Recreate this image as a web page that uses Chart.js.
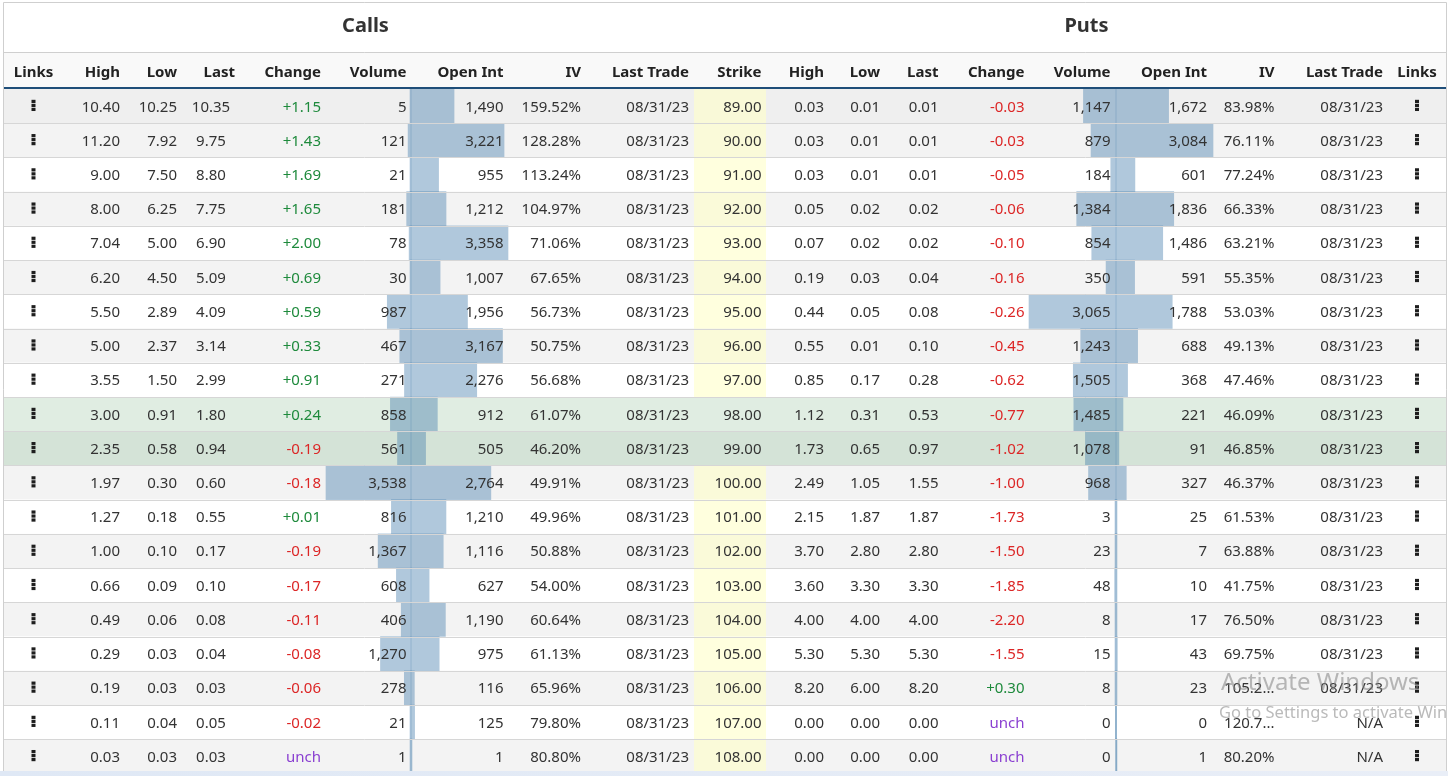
<!DOCTYPE html>
<html>
<head>
<meta charset="utf-8">
<script src="https://cdn.jsdelivr.net/npm/chart.js@4.4.0/dist/chart.umd.min.js"></script>
<style>
  html, body { margin: 0; padding: 0; background: #fff; }
  #wrap { position: relative; width: 1448px; height: 776px; }
</style>
</head>
<body>
<div id="wrap"><canvas id="grafico"></canvas></div>
<script>
// datos de la cadena de opciones
const strikes = [89, 90, 91, 92, 93, 94, 95, 96, 97, 98, 99, 100, 101, 102, 103, 104, 105, 106, 107, 108];

const callHigh = [10.40, 11.20, 9.00, 8.00, 7.04, 6.20, 5.50, 5.00, 3.55, 3.00, 2.35, 1.97, 1.27, 1.00, 0.66, 0.49, 0.29, 0.19, 0.11, 0.03];
const callLow = [10.25, 7.92, 7.50, 6.25, 5.00, 4.50, 2.89, 2.37, 1.50, 0.91, 0.58, 0.30, 0.18, 0.10, 0.09, 0.06, 0.03, 0.03, 0.04, 0.03];
const callLast = [10.35, 9.75, 8.80, 7.75, 6.90, 5.09, 4.09, 3.14, 2.99, 1.80, 0.94, 0.60, 0.55, 0.17, 0.10, 0.08, 0.04, 0.03, 0.05, 0.03];
const callChange = [1.15, 1.43, 1.69, 1.65, 2.00, 0.69, 0.59, 0.33, 0.91, 0.24, -0.19, -0.18, 0.01, -0.19, -0.17, -0.11, -0.08, -0.06, -0.02, 0];
const callVolume = [5, 121, 21, 181, 78, 30, 987, 467, 271, 858, 561, 3538, 816, 1367, 608, 406, 1270, 278, 21, 1];
const callOpenInt = [1490, 3221, 955, 1212, 3358, 1007, 1956, 3167, 2276, 912, 505, 2764, 1210, 1116, 627, 1190, 975, 116, 125, 1];
const callIV = [159.52, 128.28, 113.24, 104.97, 71.06, 67.65, 56.73, 50.75, 56.68, 61.07, 46.20, 49.91, 49.96, 50.88, 54.00, 60.64, 61.13, 65.96, 79.80, 80.80];
const callLastTrade = ['08/31/23', '08/31/23', '08/31/23', '08/31/23', '08/31/23', '08/31/23', '08/31/23', '08/31/23', '08/31/23', '08/31/23',
                       '08/31/23', '08/31/23', '08/31/23', '08/31/23', '08/31/23', '08/31/23', '08/31/23', '08/31/23', '08/31/23', '08/31/23'];

const putHigh = [0.03, 0.03, 0.03, 0.05, 0.07, 0.19, 0.44, 0.55, 0.85, 1.12, 1.73, 2.49, 2.15, 3.70, 3.60, 4.00, 5.30, 8.20, 0.00, 0.00];
const putLow = [0.01, 0.01, 0.01, 0.02, 0.02, 0.03, 0.05, 0.01, 0.17, 0.31, 0.65, 1.05, 1.87, 2.80, 3.30, 4.00, 5.30, 6.00, 0.00, 0.00];
const putLast = [0.01, 0.01, 0.01, 0.02, 0.02, 0.04, 0.08, 0.10, 0.28, 0.53, 0.97, 1.55, 1.87, 2.80, 3.30, 4.00, 5.30, 8.20, 0.00, 0.00];
const putChange = [-0.03, -0.03, -0.05, -0.06, -0.10, -0.16, -0.26, -0.45, -0.62, -0.77, -1.02, -1.00, -1.73, -1.50, -1.85, -2.20, -1.55, 0.30, 0, 0];
const putVolume = [1147, 879, 184, 1384, 854, 350, 3065, 1243, 1505, 1485, 1078, 968, 3, 23, 48, 8, 15, 8, 0, 0];
const putOpenInt = [1672, 3084, 601, 1836, 1486, 591, 1788, 688, 368, 221, 91, 327, 25, 7, 10, 17, 43, 23, 0, 1];
const putIV = [83.98, 76.11, 77.24, 66.33, 63.21, 55.35, 53.03, 49.13, 47.46, 46.09, 46.85, 46.37, 61.53, 63.88, 41.75, 76.50, 69.75, 105.21, 120.74, 80.20];
const putLastTrade = ['08/31/23', '08/31/23', '08/31/23', '08/31/23', '08/31/23', '08/31/23', '08/31/23', '08/31/23', '08/31/23', '08/31/23',
                      '08/31/23', '08/31/23', '08/31/23', '08/31/23', '08/31/23', '08/31/23', '08/31/23', '08/31/23', 'N/A', 'N/A'];

const FONT = '"Noto Sans", "Open Sans", sans-serif';
const TXT = '#333333';
const W = 1448;

const precio = v => v.toFixed(2);
const miles = v => v.toLocaleString('en-US');
const cambio = v => v > 0 ? { t: '+' + v.toFixed(2), c: '#1e8a3c' } : v < 0 ? { t: v.toFixed(2), c: '#dc2626' } : { t: 'unch', c: '#8a3fd1' };
const iv = v => v.toFixed(2) + '%';
const ivCorto = v => v >= 100 ? v.toFixed(2).slice(0, 5) + '...' : iv(v);

// columnas: cabecera, posicion x, alineacion, valor
const columnas = [
  { head: 'Links', x: 33.5, align: 'center', links: true },
  { head: 'High', x: 120, align: 'right', val: i => precio(callHigh[i]) },
  { head: 'Low', x: 177, align: 'right', val: i => precio(callLow[i]) },
  { head: 'Last', x: 235, hx: 235, align: 'center', vx: 211, val: i => precio(callLast[i]) },
  { head: 'Change', x: 321, align: 'right', val: i => cambio(callChange[i]) },
  { head: 'Volume', x: 406.5, align: 'right', val: i => miles(callVolume[i]) },
  { head: 'Open Int', x: 503.5, align: 'right', val: i => miles(callOpenInt[i]) },
  { head: 'IV', x: 581, align: 'right', val: i => iv(callIV[i]) },
  { head: 'Last Trade', x: 689, align: 'right', val: i => callLastTrade[i] },
  { head: 'Strike', x: 761.5, align: 'right', val: i => precio(strikes[i]) },
  { head: 'High', x: 824, align: 'right', val: i => precio(putHigh[i]) },
  { head: 'Low', x: 880, align: 'right', val: i => precio(putLow[i]) },
  { head: 'Last', x: 938.5, align: 'right', val: i => precio(putLast[i]) },
  { head: 'Change', x: 1024.5, align: 'right', val: i => cambio(putChange[i]) },
  { head: 'Volume', x: 1110.5, align: 'right', val: i => miles(putVolume[i]) },
  { head: 'Open Int', x: 1207, align: 'right', val: i => miles(putOpenInt[i]) },
  { head: 'IV', x: 1274.5, align: 'right', val: i => ivCorto(putIV[i]) },
  { head: 'Last Trade', x: 1383, align: 'right', val: i => putLastTrade[i] },
  { head: 'Links', x: 1417, align: 'center', links: true }
];

function fondoFila(i) {
  if (i === 9) return '#e0ede2';
  if (i === 10) return '#d4e3d7';
  if (i === 0) return '#efefef';
  return i % 2 === 1 ? '#f3f3f3' : '#ffffff';
}

// eje lineal oculto: el 0 cae en "borde" y el maximo ocupa "ancho" px
function ejeBarra(borde, ancho, maximo, izquierda) {
  const p = ancho / maximo;
  if (!izquierda) {
    const min = -borde / p;
    return { type: 'linear', display: false, min: min, max: min + W / p };
  }
  const max = borde / p;
  return { type: 'linear', display: false, reverse: true, min: max - W / p, max: max };
}

const tabla = {
  id: 'tabla',
  beforeDatasetsDraw(chart) {
    const ctx = chart.ctx;
    const y = chart.scales.y;
    const alto = y.getPixelForValue(1) - y.getPixelForValue(0);
    ctx.save();
    ctx.fillStyle = '#ffffff';
    ctx.fillRect(0, 0, W, 776);
    ctx.fillStyle = '#f9f9f9';
    ctx.fillRect(4, 53, 1442, 34);
    strikes.forEach((s, i) => {
      const top = y.getPixelForValue(i) - alto / 2;
      ctx.fillStyle = fondoFila(i);
      ctx.fillRect(4, top, 1442, alto);
      if (i !== 9 && i !== 10) {
        ctx.fillStyle = 'rgba(255,255,200,0.6)';
        ctx.fillRect(694, top, 72, alto);
      }
    });
    ctx.restore();
  },
  afterDatasetsDraw(chart) {
    const ctx = chart.ctx;
    const y = chart.scales.y;
    const alto = y.getPixelForValue(1) - y.getPixelForValue(0);
    ctx.save();

    // lineas de filas
    ctx.strokeStyle = '#d6d6d6';
    ctx.lineWidth = 1;
    strikes.forEach((s, i) => {
      if (i === 0) return;
      const top = Math.round(y.getPixelForValue(i) - alto / 2) + 0.5;
      ctx.beginPath();
      ctx.moveTo(4, top);
      ctx.lineTo(1446, top);
      ctx.stroke();
    });

    // bordes
    ctx.strokeStyle = '#cfcfcf';
    ctx.beginPath();
    ctx.moveTo(3.5, 2.5); ctx.lineTo(1446.5, 2.5);
    ctx.moveTo(3.5, 2.5); ctx.lineTo(3.5, 776);
    ctx.moveTo(1446.5, 2.5); ctx.lineTo(1446.5, 776);
    ctx.moveTo(3.5, 52.5); ctx.lineTo(1446.5, 52.5);
    ctx.stroke();
    ctx.fillStyle = '#1f4e79';
    ctx.fillRect(4, 87, 1442, 2);

    // titulos
    ctx.fillStyle = TXT;
    ctx.textAlign = 'center';
    ctx.textBaseline = 'alphabetic';
    ctx.font = 'bold 20px ' + FONT;
    ctx.fillText('Calls', 365.5, 32);
    ctx.fillText('Puts', 1086.5, 32);

    // cabeceras
    ctx.font = 'bold 15px ' + FONT;
    ctx.fillStyle = '#222222';
    columnas.forEach(col => {
      ctx.textAlign = col.align === 'center' && !col.links ? 'right' : col.align;
      ctx.fillText(col.head, col.hx || col.x, 77);
    });

    // celdas
    ctx.font = '15px ' + FONT;
    strikes.forEach((s, i) => {
      const cy = y.getPixelForValue(i);
      columnas.forEach(col => {
        if (col.links) {
          ctx.fillStyle = '#1e1e1e';
          for (let k = -1; k <= 1; k++) {
            ctx.fillRect(col.x - 2, cy - 0.7 + k * 4 - 1.6, 4, 3.2);
          }
          return;
        }
        let v = col.val(i);
        let color = TXT;
        if (typeof v === 'object') { color = v.c; v = v.t; }
        ctx.fillStyle = color;
        ctx.textAlign = col.align;
        ctx.fillText(v, col.vx || col.x, cy + 5.5);
      });
    });

    // franja inferior
    const grad = ctx.createLinearGradient(0, 0, W, 0);
    grad.addColorStop(0, '#dfe8f5');
    grad.addColorStop(1, '#e9eef7');
    ctx.fillStyle = grad;
    ctx.fillRect(0, 771, W, 5);

    // marca de agua
    ctx.fillStyle = 'rgba(130,130,130,0.55)';
    ctx.textAlign = 'left';
    ctx.font = '24px ' + FONT;
    ctx.fillText('Activate Windows', 1221, 690);
    ctx.font = '16.5px ' + FONT;
    ctx.fillText('Go to Settings to activate Windows.', 1219, 718);
    ctx.restore();
  }
};

const colorBarra = 'rgba(67,124,172,0.42)';
const serie = (datos, eje) => ({
  data: datos,
  xAxisID: eje,
  backgroundColor: colorBarra,
  borderWidth: 0,
  grouped: false,
  barPercentage: 1,
  categoryPercentage: 1,
  minBarLength: 1
});

const ctx = document.getElementById('grafico');

new Chart(ctx, {
  type: 'bar',
  data: {
    labels: strikes.map(s => s.toFixed(2)),
    datasets: [
      serie(callVolume, 'xcv'),
      serie(callOpenInt, 'xcoi'),
      serie(putVolume, 'xpv'),
      serie(putOpenInt, 'xpoi')
    ]
  },
  options: {
    indexAxis: 'y',
    responsive: true,
    maintainAspectRatio: false,
    animation: false,
    events: [],
    layout: { padding: { top: 89, bottom: 776 - 89 - 20 * 34.22, left: 0, right: 0 } },
    plugins: { legend: { display: false }, tooltip: { enabled: false } },
    scales: {
      y: { type: 'category', display: false, offset: true },
      xcv: ejeBarra(411, 85, Math.max(...callVolume), true),
      xcoi: ejeBarra(411, 97, Math.max(...callOpenInt), false),
      xpv: ejeBarra(1116, 87, Math.max(...putVolume), true),
      xpoi: ejeBarra(1116, 97, Math.max(...putOpenInt), false)
    }
  },
  plugins: [tabla]
});
</script>
</body>
</html>
